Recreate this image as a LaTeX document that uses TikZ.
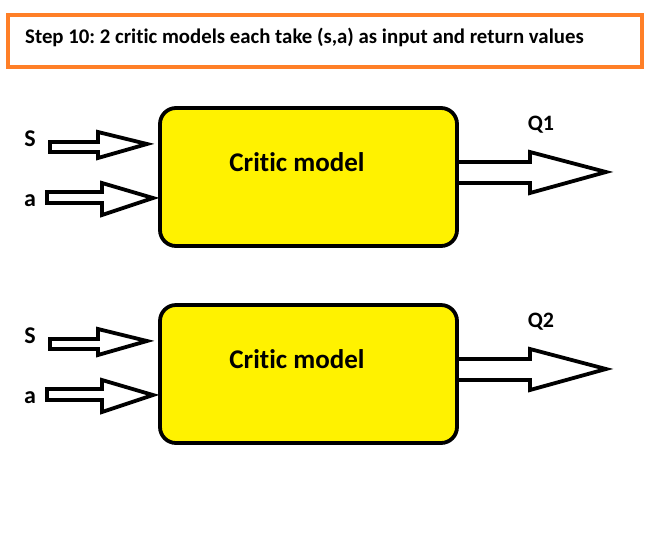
\documentclass[tikz,border=0pt]{standalone}
\usepackage{fontspec}
\setmainfont[Ligatures=NoCommon]{Carlito}
\definecolor{paintorange}{HTML}{FF7F27}
\definecolor{paintyellow}{HTML}{FFF200}
\frenchspacing
\begin{document}
\begin{tikzpicture}[x=1pt,y=-1pt,
  blockarrow/.style={draw=black,line width=3.8pt,fill=white,line join=miter},
  critic/.style={draw=black,line width=3.8pt,fill=paintyellow,rounded corners=16pt},
  lbl/.style={font=\bfseries\fontsize{24}{26}\selectfont,inner sep=0pt},
  qlbl/.style={font=\bfseries\fontsize{22}{24}\selectfont,inner sep=0pt},
  boxtext/.style={font=\bfseries\fontsize{27}{30}\selectfont,inner sep=0pt}]
\useasboundingbox (0,0) rectangle (671,542);
% title
\draw[draw=paintorange,line width=4pt] (8,15) rectangle (642,67);
\node[anchor=west,font=\bfseries\fontsize{20.8}{24}\selectfont,inner sep=0pt] (title) at (25,37) {Step 10: 2 critic models each take (s,a) as input and return values};
\foreach \i/\dy in {1/0,2/197}{
  \begin{scope}[yshift=-\dy pt]
  \draw[critic] (160,108) rectangle (457,246);
  \node[boxtext] (cm\i) at (297,162) {Critic model};
  \node[lbl] (s\i) at (30,139) {S};
  \node[lbl] (a\i) at (30,201) {a};
  \node[qlbl] (q\i) at (541,125) {Q\i};
  % S arrow
  \draw[blockarrow] (50,142) -- (98,142) -- (98,132) -- (147,144) -- (98,158) -- (98,152) -- (50,152) -- cycle;
  % a arrow
  \draw[blockarrow] (47,192) -- (102,192) -- (102,183) -- (153,198) -- (102,215) -- (102,203) -- (47,203) -- cycle;
  % output arrow
  \draw[blockarrow] (459,162) -- (530,162) -- (530,152) -- (606,172) -- (530,193) -- (530,183) -- (459,183);
  \end{scope}
}
\end{tikzpicture}
\end{document}
